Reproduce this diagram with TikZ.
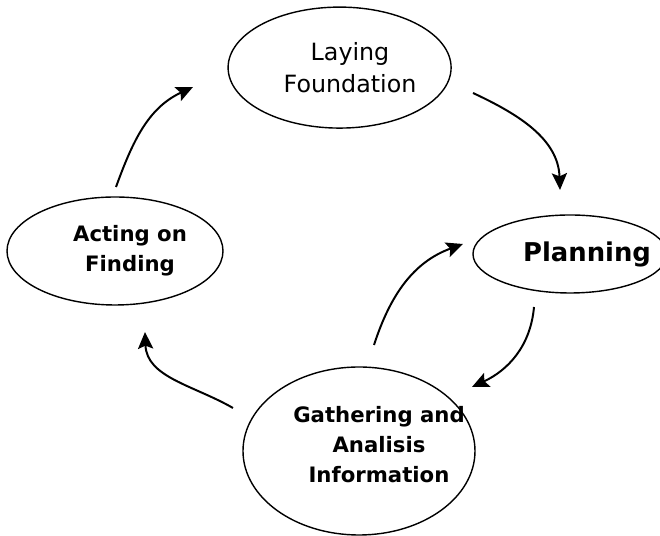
\documentclass[tikz,border=0pt]{standalone}
\usepackage{fontspec}
\setmainfont{DejaVu Sans}
\usetikzlibrary{shapes.geometric,arrows.meta}

\tikzset{
  stage/.style={draw, ellipse, line width=1pt, inner sep=0pt},
  flow/.style={-{Stealth[length=4.2mm,width=3.8mm,inset=0.8mm]}, line width=1.4pt},
}

\begin{document}
\begin{tikzpicture}
  \useasboundingbox (0,0) rectangle (16.5,13.4);

  \node (Laying) at (8.49,11.71) [stage, minimum width=5.575cm,
minimum height=3.025cm, label={[align=center, xshift=0.26cm,
font=\fontsize{16.9}{23.4}\selectfont]center:Laying\\Foundation}] {};

  \node (Planning) at (14.25,7.05) [stage, minimum width=4.85cm,
minimum height=1.95cm, label={[xshift=0.425cm,
font=\fontsize{18.4}{22}\selectfont\bfseries]center:Planning}] {};

  \node (Gathering) at (8.975,2.125) [stage, minimum width=5.8cm,
minimum height=4.2cm, label={[align=center, xshift=0.5cm, yshift=0.16cm,
font=\fontsize{15.1}{21.3}\selectfont\bfseries]center:Gathering and\\Analisis\\Information}] {};

  \node (Acting) at (2.875,7.125) [stage, minimum width=5.4cm,
minimum height=2.7cm, label={[align=center, xshift=0.375cm,
font=\fontsize{15.1}{21.3}\selectfont\bfseries]center:Acting on\\Finding}] {};

  % free ends of the cycle arrows
  \coordinate (ActingOut) at (2.9,8.725);
  \coordinate (LayingIn) at (4.825,11.225);
  \coordinate (LayingOut) at (11.825,11.075);
  \coordinate (PlanningIn) at (14.0,8.65);
  \coordinate (PlanningOut) at (13.35,5.725);
  \coordinate (GatheringIn) at (11.8,3.725);
  \coordinate (GatheringOut) at (5.825,3.2);
  \coordinate (ActingIn) at (3.625,5.1);
  \coordinate (BackOut) at (9.35,4.775);
  \coordinate (BackIn) at (11.575,7.3);

  \draw[flow] (ActingOut) to[out=70, in=205] (LayingIn);
  \draw[flow] (LayingOut) to[out=-25, in=92] (PlanningIn);
  \draw[flow] (PlanningOut) to[out=-95, in=25] (GatheringIn);
  \draw[flow] (GatheringOut) to[out=150, in=-88] (ActingIn);
  \draw[flow] (BackOut) to[out=72, in=200] (BackIn);
\end{tikzpicture}
\end{document}
